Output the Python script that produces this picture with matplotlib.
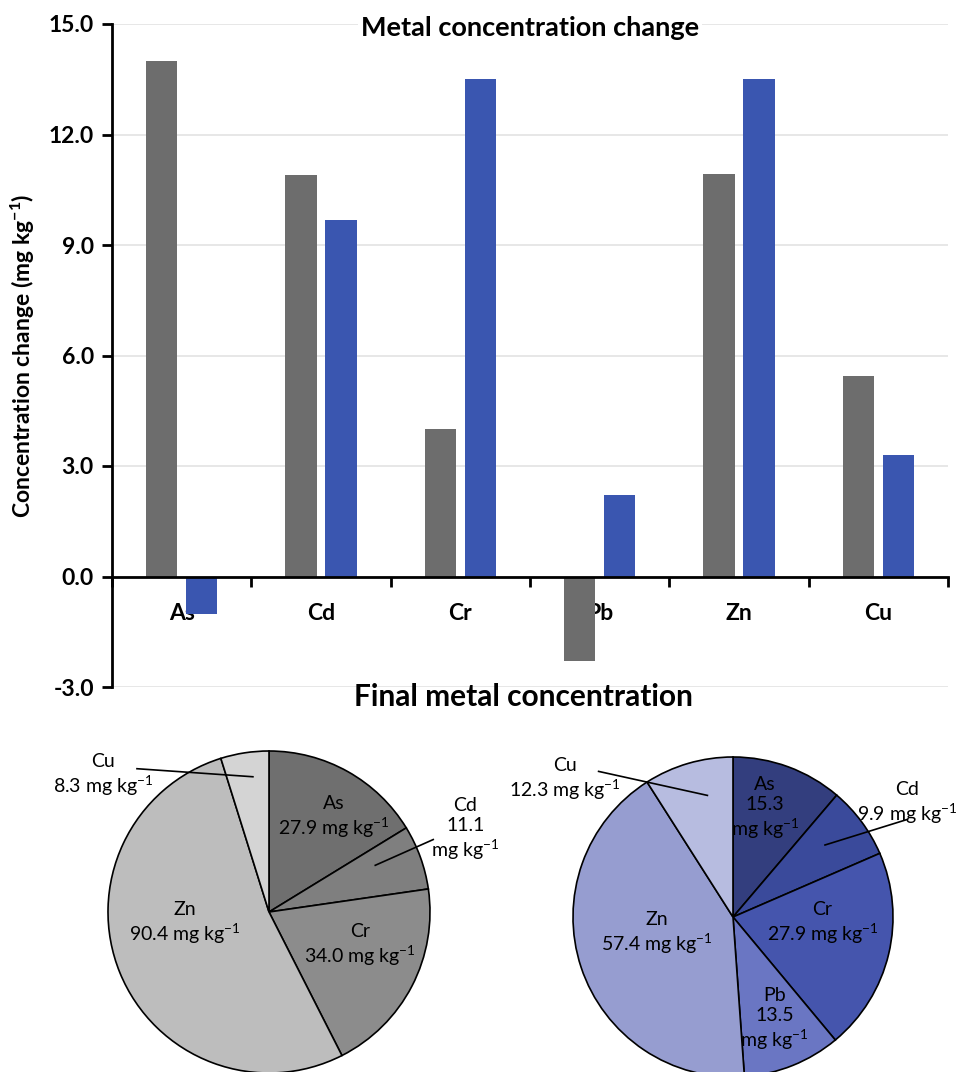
import matplotlib
matplotlib.use("Agg")
import matplotlib.pyplot as plt
import numpy as np

plt.rcParams['font.family'] = ['Lato', 'DejaVu Sans']
plt.rcParams['mathtext.default'] = 'regular'

# ---------------- data ----------------
metals = ["As", "Cd", "Cr", "Pb", "Zn", "Cu"]
change_gray = [14.0, 10.9, 4.0, -2.3, 10.93, 5.43]
change_blue = [-1.03, 9.67, 13.5, 2.21, 13.5, 3.31]
yticks = [-3.0, 0.0, 3.0, 6.0, 9.0, 12.0, 15.0]

pie_left_metals = ["As", "Cd", "Cr", "Zn", "Cu"]
pie_left_values = [27.9, 11.1, 34.0, 90.4, 8.3]
pie_left_colors = ["#6f6f6f", "#7f7f7f", "#8c8c8c", "#bdbdbd", "#d4d4d4"]

pie_right_metals = ["As", "Cd", "Cr", "Pb", "Zn", "Cu"]
pie_right_values = [15.3, 9.9, 27.9, 13.5, 57.4, 12.3]
pie_right_colors = ["#333e7e", "#3a4a9b", "#4555ad", "#6a76c3", "#969dd0", "#b7bce0"]

GRAY = "#6d6d6d"
BLUE = "#3a56b0"
UNIT = "mg kg$^{-1}$"

W, H = 957, 1072
fig = plt.figure(figsize=(W / 100, H / 100), dpi=100)

def box(x0, y0, x1, y1):
    return [x0 / W, 1 - y1 / H, (x1 - x0) / W, (y1 - y0) / H]

# ---------------- bar chart ----------------
ax = fig.add_axes(box(112, 24, 948, 687))
x = np.arange(len(metals))
bw = 0.225
off = 0.1425
ax.bar(x - off, change_gray, width=bw, color=GRAY, zorder=3)
ax.bar(x + off, change_blue, width=bw, color=BLUE, zorder=3)
ax.set_xlim(-0.5, len(metals) - 0.5)
ax.set_ylim(-3, 15)
ax.set_yticks(yticks)
ax.set_yticklabels([f"{v:.1f}" for v in yticks], fontsize=16.5, fontweight='bold')
ax.yaxis.grid(True, color="#e3e3e3", linewidth=1.2, zorder=0)
ax.set_axisbelow(True)
for s in ['top', 'right']:
    ax.spines[s].set_visible(False)
ax.spines['bottom'].set_position(('data', 0))
ax.spines['bottom'].set_linewidth(2)
ax.spines['left'].set_linewidth(2)
ax.spines['bottom'].set_zorder(4)
ax.set_xticks(np.arange(-0.5, len(metals)), minor=False)
ax.set_xticklabels([])
ax.set_xticks(x, minor=True)
ax.set_xticklabels(metals, minor=True, fontsize=16.5, fontweight='bold')
ax.tick_params(axis='x', which='major', direction='out', length=7, width=2)
ax.tick_params(axis='x', which='minor', length=0, pad=19)
ax.tick_params(axis='y', direction='out', length=7, width=2, pad=6)
ax.set_ylabel("Concentration change (" + UNIT + ")", fontsize=16.5, fontweight='bold')
ax.yaxis.set_label_coords((37 - 112) / (948 - 112), (687 - 356) / (687 - 24))
ax.text(530 / W, 1 - 28 / H, "Metal concentration change", transform=fig.transFigure,
        ha='center', va='center', fontsize=19.5, fontweight='bold',
        bbox=dict(facecolor='white', edgecolor='none', pad=2), zorder=5)

fig.text(523 / W, 1 - 697 / H, "Final metal concentration", ha='center', va='center',
         fontsize=21.5, fontweight='bold')

# ---------------- pies ----------------
def draw_pie(cx, cy, R, values, colors):
    pax = fig.add_axes(box(cx - R, cy - R, cx + R, cy + R))
    pax.pie(values, colors=colors, startangle=90, counterclock=False,
            wedgeprops=dict(edgecolor='black', linewidth=1.2))
    pax.set_xlim(-1, 1)
    pax.set_ylim(-1, 1)
    pax.set_aspect('equal')
    pax.axis('off')
    return pax

lax = draw_pie(269, 912, 161, pie_left_values, pie_left_colors)
rax = draw_pie(733, 917, 160, pie_right_values, pie_right_colors)

fs = 14
def lab(pax, xy, txt):
    pax.text(xy[0], xy[1], txt, ha='center', va='center', fontsize=fs,
             linespacing=1.2, clip_on=False)

def leader(pax, p0, p1):
    pax.plot([p0[0], p1[0]], [p0[1], p1[1]], color='black', linewidth=1.2, clip_on=False)

L = dict(zip(pie_left_metals, pie_left_values))
lab(lax, (0.40, 0.59), f"As\n{L['As']:.1f} {UNIT}")
lab(lax, (0.565, -0.205), f"Cr\n{L['Cr']:.1f} {UNIT}")
lab(lax, (-0.52, -0.07), f"Zn\n{L['Zn']:.1f} {UNIT}")
lab(lax, (1.22, 0.51), f"Cd\n{L['Cd']:.1f}\n{UNIT}")
leader(lax, (1.02, 0.45), (0.66, 0.29))
lab(lax, (-1.03, 0.85), f"Cu\n{L['Cu']:.1f} {UNIT}")
leader(lax, (-0.82, 0.89), (-0.10, 0.84))

Rv = dict(zip(pie_right_metals, pie_right_values))
lab(rax, (0.20, 0.68), f"As\n{Rv['As']:.1f}\n{UNIT}")
lab(rax, (1.09, 0.71), f"Cd\n{Rv['Cd']:.1f} {UNIT}")
leader(rax, (1.09, 0.61), (0.575, 0.45))
lab(rax, (0.56, -0.04), f"Cr\n{Rv['Cr']:.1f} {UNIT}")
lab(rax, (0.26, -0.64), f"Pb\n{Rv['Pb']:.1f}\n{UNIT}")
lab(rax, (-0.475, -0.10), f"Zn\n{Rv['Zn']:.1f} {UNIT}")
lab(rax, (-1.05, 0.86), f"Cu\n{Rv['Cu']:.1f} {UNIT}")
leader(rax, (-0.84, 0.91), (-0.16, 0.76))

fig.savefig("out.png", dpi=100)
